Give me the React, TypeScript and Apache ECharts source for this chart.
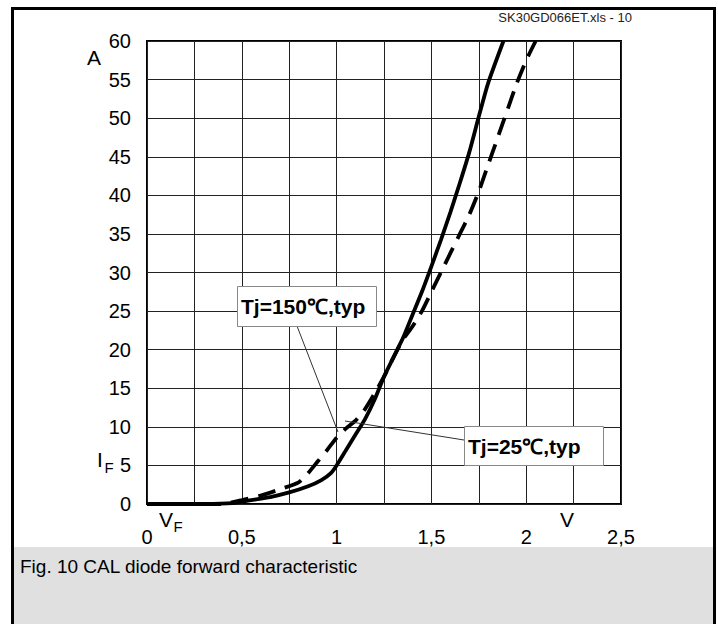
import React, { useEffect, useRef } from "react";
import * as echarts from "echarts";

// Tj = 150 °C, typ (solid)
const hotV = [0, 0.3, 0.45, 0.55, 0.65, 0.75, 0.85, 0.92, 0.97, 1.0, 1.05, 1.1, 1.15, 1.2, 1.25, 1.3, 1.35, 1.4, 1.45, 1.5, 1.55, 1.6, 1.65, 1.7, 1.75, 1.8, 1.88];
const hotI = [0, 0, 0.1, 0.5, 0.9, 1.5, 2.3, 3.1, 4.0, 5.0, 7.0, 9.0, 11.0, 13.5, 16.5, 19.0, 21.5, 24.5, 27.5, 30.8, 34.2, 37.8, 41.6, 45.6, 50.2, 54.6, 60];
// Tj = 25 °C, typ (dashed)
const coldV = [0, 0.4, 0.5, 0.6, 0.7, 0.8, 0.85, 0.9, 0.95, 1.0, 1.05, 1.1, 1.15, 1.2, 1.25, 1.3, 1.35, 1.4, 1.45, 1.5, 1.55, 1.6, 1.65, 1.7, 1.75, 1.8, 1.85, 1.9, 1.95, 2.0, 2.05];
const coldI = [0, 0, 0.5, 1.1, 1.9, 2.8, 4.0, 5.5, 7.0, 8.6, 9.8, 10.8, 12.3, 14.3, 16.5, 19, 21.3, 23, 25, 27.5, 30, 32.5, 35, 37.5, 40.5, 44, 47.5, 51, 54.5, 57.5, 60];

const xTickLabels = ["0", "0,5", "1", "1,5", "2", "2,5"];
const hotLabel = "Tj=150℃,typ";
const coldLabel = "Tj=25℃,typ";
const caption = "Fig. 10 CAL diode forward characteristic";
const fileTag = "SK30GD066ET.xls - 10";

const FONT = "'Liberation Sans', Arial, Helvetica, sans-serif";

export default function App() {
  const ref = useRef<HTMLDivElement>(null);
  useEffect(() => {
    if (!ref.current) return;
    const chart = echarts.init(ref.current, undefined, { renderer: "svg" });
    const hot = hotV.map((v, i) => [v, hotI[i]]);
    const cold = coldV.map((v, i) => [v, coldI[i]]);
    chart.setOption({
      animation: false,
      backgroundColor: "#fff",
      textStyle: { fontFamily: FONT },
      grid: {
        left: 147,
        top: 41,
        width: 474,
        height: 463,
        show: true,
        borderColor: "#000",
        borderWidth: 2,
        backgroundColor: "transparent",
      },
      xAxis: {
        type: "value",
        min: 0,
        max: 2.5,
        interval: 0.25,
        axisLine: { show: false },
        axisTick: { show: false },
        splitLine: { show: true, lineStyle: { color: "#222", width: 1 } },
        axisLabel: {
          color: "#000",
          fontSize: 20,
          fontFamily: FONT,
          margin: 23,
          formatter: (v: number) => {
            const k = Math.round(v * 2);
            if (Math.abs(v * 2 - k) > 1e-6) return "";
            return xTickLabels[k] ?? "";
          },
        },
      },
      yAxis: {
        type: "value",
        min: 0,
        max: 60,
        interval: 5,
        axisLine: { show: false },
        axisTick: { show: false },
        splitLine: { show: true, lineStyle: { color: "#222", width: 1 } },
        axisLabel: { color: "#000", fontSize: 20, fontFamily: FONT, margin: 16 },
      },
      series: [
        {
          type: "line",
          name: hotLabel,
          data: hot,
          showSymbol: false,
          smooth: 0.2,
          lineStyle: { color: "#000", width: 3.8 },
          z: 5,
        },
        {
          type: "line",
          name: coldLabel,
          data: cold,
          showSymbol: false,
          smooth: 0.2,
          lineStyle: { color: "#000", width: 3.8, type: [18, 10] },
          z: 4,
        },
      ],
      graphic: [
        {
          type: "rect",
          shape: { x: 14, y: 547, width: 700, height: 90 },
          style: { fill: "#e0e0e0" },
          z: 1,
        },
        {
          type: "rect",
          shape: { x: 12.5, y: 8.5, width: 702, height: 700 },
          style: { fill: "none", stroke: "#000", lineWidth: 3 },
          z: 200,
        },
        {
          type: "text",
          x: 632,
          y: 17,
          style: { text: fileTag, fontSize: 13, fontFamily: "'Liberation Sans Narrow', " + FONT, fill: "#222", align: "right", verticalAlign: "middle" },
          z: 100,
        },
        {
          type: "text",
          x: 20,
          y: 566,
          style: { text: caption, fontSize: 19, fontFamily: FONT, fill: "#000", align: "left", verticalAlign: "middle" },
          z: 100,
        },
        {
          type: "text",
          x: 94,
          y: 57,
          style: { text: "A", fontSize: 21, fontFamily: FONT, fill: "#000", align: "center", verticalAlign: "middle" },
          z: 100,
        },
        {
          type: "text",
          x: 100,
          y: 459,
          style: { text: "I", fontSize: 21, fontFamily: FONT, fill: "#000", align: "center", verticalAlign: "middle" },
          z: 100,
        },
        {
          type: "text",
          x: 109,
          y: 467,
          style: { text: "F", fontSize: 15, fontFamily: FONT, fill: "#000", align: "center", verticalAlign: "middle" },
          z: 100,
        },
        {
          type: "text",
          x: 166,
          y: 519,
          style: { text: "V", fontSize: 21, fontFamily: FONT, fill: "#000", align: "center", verticalAlign: "middle" },
          z: 100,
        },
        {
          type: "text",
          x: 178,
          y: 526,
          style: { text: "F", fontSize: 15, fontFamily: FONT, fill: "#000", align: "center", verticalAlign: "middle" },
          z: 100,
        },
        {
          type: "text",
          x: 567,
          y: 519,
          style: { text: "V", fontSize: 21, fontFamily: FONT, fill: "#000", align: "center", verticalAlign: "middle" },
          z: 100,
        },
        {
          type: "line",
          shape: { x1: 297, y1: 326, x2: 338, y2: 432 },
          style: { stroke: "#333", lineWidth: 1 },
          z: 90,
        },
        {
          type: "line",
          shape: { x1: 464, y1: 440, x2: 345, y2: 421 },
          style: { stroke: "#333", lineWidth: 1 },
          z: 90,
        },
        {
          type: "rect",
          shape: { x: 237.5, y: 286.5, width: 139, height: 40 },
          style: { fill: "#fff", stroke: "#888", lineWidth: 1 },
          z: 95,
        },
        {
          type: "text",
          x: 241,
          y: 306,
          style: { text: hotLabel, fontSize: 21, fontWeight: "bold", fontFamily: FONT, fill: "#000", align: "left", verticalAlign: "middle" },
          z: 100,
        },
        {
          type: "rect",
          shape: { x: 464.5, y: 426.5, width: 139, height: 39 },
          style: { fill: "#fff", stroke: "#888", lineWidth: 1 },
          z: 95,
        },
        {
          type: "text",
          x: 468,
          y: 446,
          style: { text: coldLabel, fontSize: 21, fontWeight: "bold", fontFamily: FONT, fill: "#000", align: "left", verticalAlign: "middle" },
          z: 100,
        },
      ],
    });
    return () => chart.dispose();
  }, []);
  return (
    <div
      ref={ref}
      style={{ position: "fixed", left: 0, top: 0, width: 718, height: 624 }}
    />
  );
}
